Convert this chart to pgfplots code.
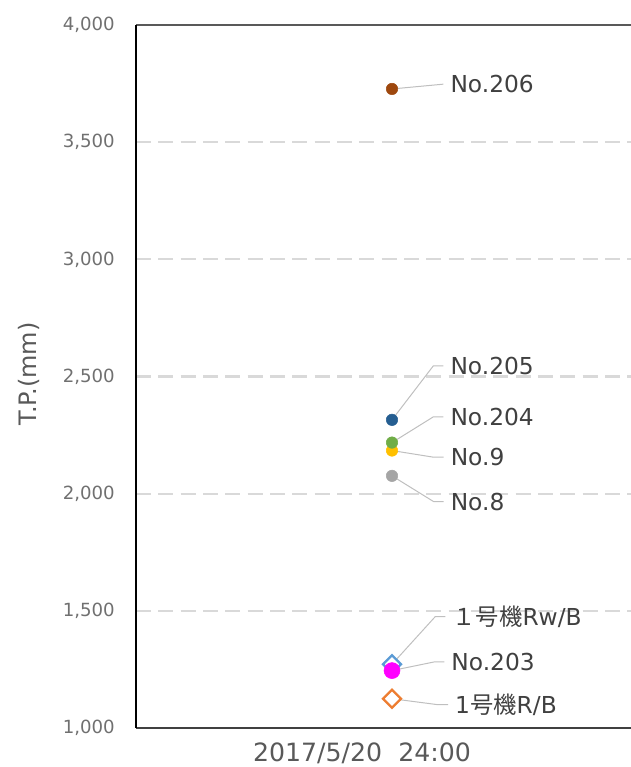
\documentclass[border=0pt]{standalone}
\usepackage{fontspec}
\setmainfont{DejaVu Sans}
\newfontfamily\cjk{Noto Sans CJK JP}
\usepackage{pgfplots}
\pgfplotsset{compat=1.18}
\definecolor{c206}{HTML}{9E480E}
\definecolor{c205}{HTML}{255E91}
\definecolor{c204}{HTML}{70AD47}
\definecolor{c9}{HTML}{FFC000}
\definecolor{c8}{HTML}{A5A5A5}
\definecolor{c203}{HTML}{FF00FF}
\definecolor{cRw}{HTML}{5B9BD5}
\definecolor{cR}{HTML}{ED7D31}
\definecolor{gridc}{HTML}{D9D9D9}
\definecolor{tickc}{HTML}{707070}
\definecolor{labc}{HTML}{404040}
\definecolor{axc}{HTML}{595959}
\definecolor{leadc}{HTML}{BFBFBF}
\tikzset{dl/.style={anchor=west, inner sep=0pt, xshift=5pt, text=labc, font=\fontsize{17.5}{21}\selectfont}}
\begin{document}
\begin{tikzpicture}
\begin{axis}[
  at={(102pt,29.25pt)}, anchor=south west,
  scale only axis, width=371.25pt, height=527.25pt,
  xmin=0, xmax=495, ymin=1000, ymax=4000,
  clip=false,
  axis line style={draw=none},
  ytick={1000,1500,...,4000},
  xtick={226}, xticklabels={2017/5/20\ \ 24:00},
  major tick length=0pt,
  ymajorgrids,
  grid style={color=gridc, line width=1.6pt, dash pattern=on 11.25pt off 5.5pt},
  /pgf/number format/1000 sep={,},
  /pgf/number format/assume math mode=true,
  yticklabel style={font=\fontsize{13.6}{16}\selectfont, text=tickc, anchor=east, inner sep=0pt, xshift=-15.75pt},
  xticklabel style={font=\fontsize{18.9}{23}\selectfont, text=axc, anchor=base, inner sep=0pt, yshift=-25.5pt},
  ylabel={T.P.(mm)},
  every axis y label/.style={at={(axis description cs:-0.2162,0.5036)}, rotate=90, anchor=center, font=\fontsize{18}{21}\selectfont, text=axc},
]
\draw[axc, line width=1.5pt] (rel axis cs:0,1) -- (rel axis cs:1,1);
\draw[labc, line width=1.5pt] (rel axis cs:0,0) -- (rel axis cs:1,0);
\draw[black, line width=1.5pt] (rel axis cs:0,0) -- (rel axis cs:0,1);
% No.8
\addplot[only marks, mark=*, mark size=4.3pt, color=c8] coordinates {(256,2076)};
% No.9
\addplot[only marks, mark=*, mark size=4.3pt, color=c9] coordinates {(256,2184)};
% No.204
\addplot[only marks, mark=*, mark size=4.3pt, color=c204] coordinates {(256,2218)};
% No.205
\addplot[only marks, mark=*, mark size=4.3pt, color=c205] coordinates {(256,2315)};
% No.206
\addplot[only marks, mark=*, mark size=4.3pt, color=c206] coordinates {(256,3727)};
% 1号機Rw/B
\addplot[only marks, mark=square*, mark size=4.8pt, mark options={rotate=45, draw=cRw, fill=white, line width=1.7pt}] coordinates {(256,1272)};
% No.203
\addplot[only marks, mark=*, mark size=6pt, color=c203] coordinates {(256,1245)};
% 1号機R/B
\addplot[only marks, mark=square*, mark size=4.8pt, mark options={rotate=45, draw=cR, fill=white, line width=1.7pt}] coordinates {(256,1125)};
% leader lines and data labels
\draw[leadc, line width=0.75pt] (axis cs:256,3727) -- ++(38.5pt,3.6pt) node[dl] {No.206};
\draw[leadc, line width=0.75pt] (axis cs:256,2315) -- ++(31pt,40.5pt) -- ++(7.5pt,0pt) node[dl] {No.205};
\draw[leadc, line width=0.75pt] (axis cs:256,2218) -- ++(31pt,19.3pt) -- ++(7.5pt,0pt) node[dl] {No.204};
\draw[leadc, line width=0.75pt] (axis cs:256,2184) -- ++(31.2pt,-5pt) -- ++(7.5pt,0pt) node[dl] {No.9};
\draw[leadc, line width=0.75pt] (axis cs:256,2076) -- ++(31.2pt,-19.3pt) -- ++(7.5pt,0pt) node[dl] {No.8};
\draw[leadc, line width=0.75pt] (axis cs:256,1272) -- ++(32.5pt,35.8pt) -- ++(7.5pt,0pt) node[dl] {{\cjk １号機}Rw/B};
\draw[leadc, line width=0.75pt] (axis cs:256,1245) -- ++(31.7pt,6.5pt) -- ++(7.5pt,0pt) node[dl] {No.203};
\draw[leadc, line width=0.75pt] (axis cs:256,1125) -- ++(34.5pt,-4.5pt) -- ++(7.5pt,0pt) node[dl] {1{\cjk 号機}R/B};
\end{axis}
\pgfresetboundingbox
\path[use as bounding box] (0,0) rectangle (473.25pt,575.25pt);
\end{tikzpicture}
\end{document}
